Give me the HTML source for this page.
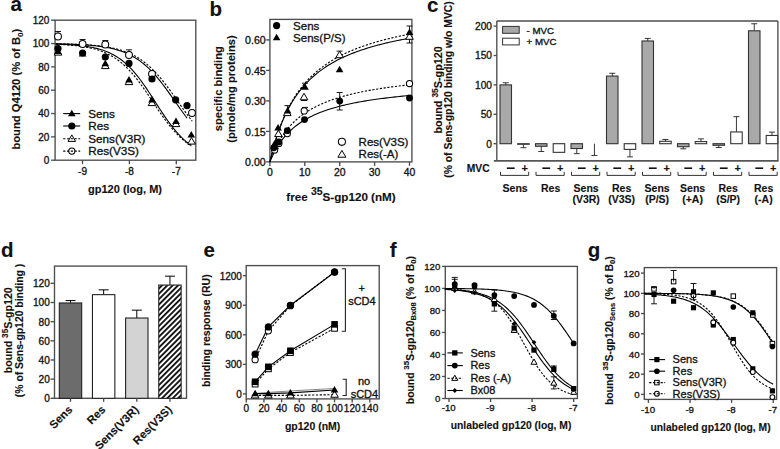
<!DOCTYPE html>
<html><head><meta charset="utf-8"><style>
html,body{margin:0;padding:0;background:#fff;}
svg{display:block;font-family:"Liberation Sans", sans-serif;}
</style></head><body>
<svg width="780" height="449" viewBox="0 0 780 449">
<rect width="780" height="449" fill="#fff"/>
<rect x="55.10" y="20.20" width="140.70" height="140.00" fill="none" stroke="#4d4d4d" stroke-width="1.35" />
<line x1="51.10" y1="160.20" x2="55.10" y2="160.20" stroke="#4d4d4d" stroke-width="1.35"/>
<text transform="translate(49.40,164.10)" font-size="10.0" text-anchor="end" stroke="#111" stroke-width="0.32" fill="#111">0</text>
<line x1="51.10" y1="136.87" x2="55.10" y2="136.87" stroke="#4d4d4d" stroke-width="1.35"/>
<text transform="translate(49.40,140.77)" font-size="10.0" text-anchor="end" stroke="#111" stroke-width="0.32" fill="#111">20</text>
<line x1="51.10" y1="113.53" x2="55.10" y2="113.53" stroke="#4d4d4d" stroke-width="1.35"/>
<text transform="translate(49.40,117.43)" font-size="10.0" text-anchor="end" stroke="#111" stroke-width="0.32" fill="#111">40</text>
<line x1="51.10" y1="90.20" x2="55.10" y2="90.20" stroke="#4d4d4d" stroke-width="1.35"/>
<text transform="translate(49.40,94.10)" font-size="10.0" text-anchor="end" stroke="#111" stroke-width="0.32" fill="#111">60</text>
<line x1="51.10" y1="66.87" x2="55.10" y2="66.87" stroke="#4d4d4d" stroke-width="1.35"/>
<text transform="translate(49.40,70.77)" font-size="10.0" text-anchor="end" stroke="#111" stroke-width="0.32" fill="#111">80</text>
<line x1="51.10" y1="43.53" x2="55.10" y2="43.53" stroke="#4d4d4d" stroke-width="1.35"/>
<text transform="translate(49.40,47.43)" font-size="10.0" text-anchor="end" stroke="#111" stroke-width="0.32" fill="#111">100</text>
<line x1="51.10" y1="20.20" x2="55.10" y2="20.20" stroke="#4d4d4d" stroke-width="1.35"/>
<text transform="translate(49.40,24.10)" font-size="10.0" text-anchor="end" stroke="#111" stroke-width="0.32" fill="#111">120</text>
<line x1="82.50" y1="160.20" x2="82.50" y2="164.20" stroke="#4d4d4d" stroke-width="1.35"/>
<text transform="translate(82.50,174.60)" font-size="10.0" text-anchor="middle" stroke="#111" stroke-width="0.32" fill="#111">-9</text>
<line x1="129.40" y1="160.20" x2="129.40" y2="164.20" stroke="#4d4d4d" stroke-width="1.35"/>
<text transform="translate(129.40,174.60)" font-size="10.0" text-anchor="middle" stroke="#111" stroke-width="0.32" fill="#111">-8</text>
<line x1="176.30" y1="160.20" x2="176.30" y2="164.20" stroke="#4d4d4d" stroke-width="1.35"/>
<text transform="translate(176.30,174.60)" font-size="10.0" text-anchor="middle" stroke="#111" stroke-width="0.32" fill="#111">-7</text>
<text transform="translate(125.00,192.60)" font-size="11.0" text-anchor="middle" font-weight="bold" stroke="#111" stroke-width="0.12" fill="#111">gp120 (log, M)</text>
<text transform="translate(20.40,89.20) rotate(-90)" font-size="11.2" text-anchor="middle" font-weight="bold" stroke="#111" stroke-width="0.12" fill="#111">bound Q4120 (% of B<tspan font-size="8" dy="2.6">0</tspan><tspan dy="-2.6">)</tspan></text>
<text transform="translate(10.60,10.90)" font-size="20.5" text-anchor="start" font-weight="bold" stroke="#111" stroke-width="0.12" fill="#111">a</text>
<path d="M55.77,44.10 L57.46,44.15 L59.16,44.21 L60.85,44.28 L62.54,44.35 L64.24,44.42 L65.93,44.51 L67.63,44.60 L69.32,44.70 L71.02,44.81 L72.71,44.93 L74.40,45.06 L76.10,45.20 L77.79,45.36 L79.49,45.53 L81.18,45.71 L82.88,45.92 L84.57,46.14 L86.26,46.38 L87.96,46.64 L89.65,46.93 L91.35,47.24 L93.04,47.58 L94.74,47.95 L96.43,48.35 L98.12,48.79 L99.82,49.26 L101.51,49.78 L103.21,50.33 L104.90,50.94 L106.59,51.59 L108.29,52.30 L109.98,53.07 L111.68,53.89 L113.37,54.78 L115.07,55.73 L116.76,56.76 L118.45,57.86 L120.15,59.04 L121.84,60.30 L123.54,61.64 L125.23,63.07 L126.93,64.59 L128.62,66.21 L130.31,67.91 L132.01,69.70 L133.70,71.59 L135.40,73.56 L137.09,75.63 L138.79,77.78 L140.48,80.02 L142.17,82.33 L143.87,84.71 L145.56,87.16 L147.26,89.66 L148.95,92.21 L150.65,94.80 L152.34,97.42 L154.03,100.06 L155.73,102.70 L157.42,105.34 L159.12,107.97 L160.81,110.57 L162.51,113.13 L164.20,115.66 L165.89,118.12 L167.59,120.53 L169.28,122.87 L170.98,125.13 L172.67,127.32 L174.37,129.41 L176.06,131.42 L177.75,133.34 L179.45,135.17 L181.14,136.91 L182.84,138.55 L184.53,140.11 L186.23,141.57 L187.92,142.95 L189.61,144.24 L191.31,145.45" fill="none" stroke="#000" stroke-width="1.1"/>
<path d="M55.77,44.31 L57.46,44.38 L59.16,44.46 L60.85,44.54 L62.54,44.63 L64.24,44.73 L65.93,44.84 L67.63,44.96 L69.32,45.09 L71.02,45.23 L72.71,45.38 L74.40,45.54 L76.10,45.72 L77.79,45.92 L79.49,46.13 L81.18,46.36 L82.88,46.61 L84.57,46.89 L86.26,47.18 L87.96,47.51 L89.65,47.86 L91.35,48.23 L93.04,48.64 L94.74,49.09 L96.43,49.57 L98.12,50.09 L99.82,50.65 L101.51,51.26 L103.21,51.91 L104.90,52.62 L106.59,53.38 L108.29,54.19 L109.98,55.07 L111.68,56.01 L113.37,57.02 L115.07,58.09 L116.76,59.24 L118.45,60.47 L120.15,61.77 L121.84,63.16 L123.54,64.62 L125.23,66.18 L126.93,67.81 L128.62,69.53 L130.31,71.34 L132.01,73.23 L133.70,75.21 L135.40,77.26 L137.09,79.40 L138.79,81.60 L140.48,83.87 L142.17,86.21 L143.87,88.60 L145.56,91.04 L147.26,93.52 L148.95,96.02 L150.65,98.56 L152.34,101.10 L154.03,103.65 L155.73,106.19 L157.42,108.71 L159.12,111.21 L160.81,113.67 L162.51,116.09 L164.20,118.46 L165.89,120.77 L167.59,123.02 L169.28,125.20 L170.98,127.30 L172.67,129.32 L174.37,131.26 L176.06,133.12 L177.75,134.89 L179.45,136.58 L181.14,138.19 L182.84,139.70 L184.53,141.14 L186.23,142.49 L187.92,143.76 L189.61,144.96 L191.31,146.08" fill="none" stroke="#000" stroke-width="1.1" stroke-dasharray="2.2,1.6"/>
<path d="M55.77,43.86 L57.41,43.89 L59.05,43.92 L60.69,43.95 L62.33,43.99 L63.97,44.02 L65.62,44.06 L67.26,44.11 L68.90,44.16 L70.54,44.21 L72.18,44.26 L73.82,44.33 L75.46,44.39 L77.11,44.46 L78.75,44.54 L80.39,44.62 L82.03,44.72 L83.67,44.81 L85.31,44.92 L86.96,45.03 L88.60,45.16 L90.24,45.29 L91.88,45.44 L93.52,45.59 L95.16,45.76 L96.80,45.95 L98.45,46.15 L100.09,46.36 L101.73,46.59 L103.37,46.84 L105.01,47.11 L106.65,47.40 L108.30,47.71 L109.94,48.05 L111.58,48.41 L113.22,48.80 L114.86,49.22 L116.50,49.68 L118.14,50.16 L119.79,50.69 L121.43,51.25 L123.07,51.85 L124.71,52.49 L126.35,53.18 L127.99,53.92 L129.63,54.71 L131.28,55.55 L132.92,56.45 L134.56,57.40 L136.20,58.42 L137.84,59.49 L139.48,60.64 L141.12,61.85 L142.77,63.13 L144.41,64.48 L146.05,65.90 L147.69,67.39 L149.33,68.96 L150.97,70.59 L152.62,72.30 L154.26,74.09 L155.90,75.94 L157.54,77.86 L159.18,79.84 L160.82,81.89 L162.46,83.99 L164.11,86.15 L165.75,88.35 L167.39,90.59 L169.03,92.87 L170.67,95.18 L172.31,97.51 L173.96,99.85 L175.60,102.20 L177.24,104.55 L178.88,106.89 L180.52,109.21 L182.16,111.52 L183.80,113.79 L185.45,116.02 L187.09,118.21" fill="none" stroke="#000" stroke-width="1.1"/>
<path d="M55.77,43.82 L57.47,43.84 L59.18,43.87 L60.88,43.90 L62.59,43.93 L64.30,43.97 L66.00,44.00 L67.71,44.05 L69.41,44.09 L71.12,44.14 L72.83,44.19 L74.53,44.25 L76.24,44.31 L77.94,44.38 L79.65,44.45 L81.36,44.53 L83.06,44.62 L84.77,44.71 L86.47,44.81 L88.18,44.92 L89.89,45.04 L91.59,45.17 L93.30,45.31 L95.00,45.47 L96.71,45.63 L98.42,45.81 L100.12,46.01 L101.83,46.22 L103.53,46.45 L105.24,46.69 L106.95,46.96 L108.65,47.25 L110.36,47.57 L112.06,47.91 L113.77,48.27 L115.48,48.67 L117.18,49.10 L118.89,49.56 L120.59,50.05 L122.30,50.59 L124.01,51.16 L125.71,51.78 L127.42,52.45 L129.12,53.16 L130.83,53.93 L132.54,54.75 L134.24,55.63 L135.95,56.57 L137.65,57.57 L139.36,58.64 L141.07,59.77 L142.77,60.98 L144.48,62.26 L146.18,63.61 L147.89,65.05 L149.60,66.55 L151.30,68.14 L153.01,69.81 L154.71,71.55 L156.42,73.37 L158.13,75.27 L159.83,77.24 L161.54,79.28 L163.24,81.39 L164.95,83.57 L166.66,85.80 L168.36,88.08 L170.07,90.41 L171.77,92.77 L173.48,95.17 L175.19,97.59 L176.89,100.03 L178.60,102.47 L180.30,104.91 L182.01,107.34 L183.72,109.75 L185.42,112.13 L187.13,114.48 L188.83,116.79 L190.54,119.05 L192.25,121.25" fill="none" stroke="#000" stroke-width="1.1" stroke-dasharray="2.2,1.6"/>
<line x1="58.00" y1="36.50" x2="58.00" y2="31.50" stroke="#000" stroke-width="0.9"/>
<line x1="55.00" y1="31.50" x2="61.00" y2="31.50" stroke="#000" stroke-width="0.9"/>
<line x1="82.60" y1="44.00" x2="82.60" y2="39.50" stroke="#000" stroke-width="0.9"/>
<line x1="79.60" y1="39.50" x2="85.60" y2="39.50" stroke="#000" stroke-width="0.9"/>
<line x1="105.30" y1="44.50" x2="105.30" y2="40.50" stroke="#000" stroke-width="0.9"/>
<line x1="102.30" y1="40.50" x2="108.30" y2="40.50" stroke="#000" stroke-width="0.9"/>
<line x1="129.00" y1="55.00" x2="129.00" y2="49.80" stroke="#000" stroke-width="0.9"/>
<line x1="126.00" y1="49.80" x2="132.00" y2="49.80" stroke="#000" stroke-width="0.9"/>
<polygon points="58.00,48.60 61.80,55.10 54.20,55.10" fill="#fff" stroke="#000" stroke-width="1.0" stroke-linejoin="round"/>
<polygon points="105.30,62.10 109.10,68.60 101.50,68.60" fill="#fff" stroke="#000" stroke-width="1.0" stroke-linejoin="round"/>
<polygon points="129.00,78.10 132.80,84.60 125.20,84.60" fill="#fff" stroke="#000" stroke-width="1.0" stroke-linejoin="round"/>
<polygon points="152.00,99.10 155.80,105.60 148.20,105.60" fill="#fff" stroke="#000" stroke-width="1.0" stroke-linejoin="round"/>
<polygon points="176.00,120.10 179.80,126.60 172.20,126.60" fill="#fff" stroke="#000" stroke-width="1.0" stroke-linejoin="round"/>
<polygon points="191.50,137.60 195.30,144.10 187.70,144.10" fill="#fff" stroke="#000" stroke-width="1.0" stroke-linejoin="round"/>
<circle cx="58.00" cy="36.50" r="3.41" fill="#fff" stroke="#000" stroke-width="1.05"/>
<circle cx="82.60" cy="44.00" r="3.41" fill="#fff" stroke="#000" stroke-width="1.05"/>
<circle cx="105.30" cy="44.50" r="3.41" fill="#fff" stroke="#000" stroke-width="1.05"/>
<circle cx="129.00" cy="55.00" r="3.41" fill="#fff" stroke="#000" stroke-width="1.05"/>
<circle cx="152.00" cy="73.90" r="3.41" fill="#fff" stroke="#000" stroke-width="1.05"/>
<circle cx="192.00" cy="113.00" r="3.41" fill="#fff" stroke="#000" stroke-width="1.05"/>
<polygon points="58.00,47.60 61.80,54.10 54.20,54.10" fill="#000"/>
<polygon points="82.60,50.10 86.40,56.60 78.80,56.60" fill="#000"/>
<polygon points="105.30,59.70 109.10,66.20 101.50,66.20" fill="#000"/>
<polygon points="129.00,76.10 132.80,82.60 125.20,82.60" fill="#000"/>
<polygon points="152.00,96.10 155.80,102.60 148.20,102.60" fill="#000"/>
<polygon points="176.00,117.40 179.80,123.90 172.20,123.90" fill="#000"/>
<polygon points="191.30,131.00 195.10,137.50 187.50,137.50" fill="#000"/>
<circle cx="58.00" cy="48.50" r="3.60" fill="#000"/>
<circle cx="82.60" cy="53.00" r="3.60" fill="#000"/>
<circle cx="105.30" cy="57.00" r="3.60" fill="#000"/>
<circle cx="129.00" cy="63.40" r="3.60" fill="#000"/>
<circle cx="152.00" cy="79.00" r="3.60" fill="#000"/>
<circle cx="175.60" cy="99.80" r="3.60" fill="#000"/>
<circle cx="187.00" cy="105.60" r="3.60" fill="#000"/>
<line x1="63.20" y1="113.60" x2="80.20" y2="113.60" stroke="#000" stroke-width="1.1"/>
<polygon points="71.80,109.70 75.60,116.20 68.00,116.20" fill="#000"/>
<text transform="translate(88.30,117.50)" font-size="11.7" text-anchor="start" stroke="#111" stroke-width="0.32" fill="#111">Sens</text>
<line x1="63.20" y1="126.00" x2="80.20" y2="126.00" stroke="#000" stroke-width="1.1"/>
<circle cx="71.80" cy="126.00" r="3.60" fill="#000"/>
<text transform="translate(88.30,129.90)" font-size="11.7" text-anchor="start" stroke="#111" stroke-width="0.32" fill="#111">Res</text>
<line x1="63.20" y1="138.80" x2="80.20" y2="138.80" stroke="#000" stroke-width="1.1" stroke-dasharray="2.2,1.6"/>
<polygon points="71.80,134.90 75.60,141.40 68.00,141.40" fill="none" stroke="#000" stroke-width="1.0" stroke-linejoin="round"/>
<text transform="translate(88.30,142.70)" font-size="11.7" text-anchor="start" stroke="#111" stroke-width="0.32" fill="#111">Sens(V3R)</text>
<line x1="63.20" y1="151.10" x2="80.20" y2="151.10" stroke="#000" stroke-width="1.1" stroke-dasharray="2.2,1.6"/>
<circle cx="71.80" cy="151.10" r="3.10" fill="none" stroke="#000" stroke-width="1.05"/>
<text transform="translate(88.30,155.00)" font-size="11.7" text-anchor="start" stroke="#111" stroke-width="0.32" fill="#111">Res(V3S)</text>
<rect x="269.90" y="19.40" width="142.00" height="142.50" fill="none" stroke="#4d4d4d" stroke-width="1.35" />
<line x1="266.10" y1="161.90" x2="269.90" y2="161.90" stroke="#4d4d4d" stroke-width="1.35"/>
<text transform="translate(265.70,166.03)" font-size="10.6" text-anchor="end" stroke="#111" stroke-width="0.32" fill="#111">0.00</text>
<line x1="266.10" y1="131.40" x2="269.90" y2="131.40" stroke="#4d4d4d" stroke-width="1.35"/>
<text transform="translate(265.70,135.53)" font-size="10.6" text-anchor="end" stroke="#111" stroke-width="0.32" fill="#111">0.15</text>
<line x1="266.10" y1="100.90" x2="269.90" y2="100.90" stroke="#4d4d4d" stroke-width="1.35"/>
<text transform="translate(265.70,105.03)" font-size="10.6" text-anchor="end" stroke="#111" stroke-width="0.32" fill="#111">0.30</text>
<line x1="266.10" y1="70.40" x2="269.90" y2="70.40" stroke="#4d4d4d" stroke-width="1.35"/>
<text transform="translate(265.70,74.53)" font-size="10.6" text-anchor="end" stroke="#111" stroke-width="0.32" fill="#111">0.45</text>
<line x1="266.10" y1="39.90" x2="269.90" y2="39.90" stroke="#4d4d4d" stroke-width="1.35"/>
<text transform="translate(265.70,44.03)" font-size="10.6" text-anchor="end" stroke="#111" stroke-width="0.32" fill="#111">0.60</text>
<line x1="269.90" y1="161.90" x2="269.90" y2="165.90" stroke="#4d4d4d" stroke-width="1.35"/>
<text transform="translate(269.90,175.70)" font-size="10.4" text-anchor="middle" stroke="#111" stroke-width="0.32" fill="#111">0</text>
<line x1="304.80" y1="161.90" x2="304.80" y2="165.90" stroke="#4d4d4d" stroke-width="1.35"/>
<text transform="translate(304.80,175.70)" font-size="10.4" text-anchor="middle" stroke="#111" stroke-width="0.32" fill="#111">10</text>
<line x1="339.70" y1="161.90" x2="339.70" y2="165.90" stroke="#4d4d4d" stroke-width="1.35"/>
<text transform="translate(339.70,175.70)" font-size="10.4" text-anchor="middle" stroke="#111" stroke-width="0.32" fill="#111">20</text>
<line x1="374.60" y1="161.90" x2="374.60" y2="165.90" stroke="#4d4d4d" stroke-width="1.35"/>
<text transform="translate(374.60,175.70)" font-size="10.4" text-anchor="middle" stroke="#111" stroke-width="0.32" fill="#111">30</text>
<line x1="409.50" y1="161.90" x2="409.50" y2="165.90" stroke="#4d4d4d" stroke-width="1.35"/>
<text transform="translate(409.50,175.70)" font-size="10.4" text-anchor="middle" stroke="#111" stroke-width="0.32" fill="#111">40</text>
<text transform="translate(286.30,200.80)" font-size="11.65" text-anchor="start" font-weight="bold" stroke="#111" stroke-width="0.12" fill="#111">free <tspan font-size="10.5" dy="-6.3">35</tspan><tspan dy="6.3">S-gp120 (nM)</tspan></text>
<text transform="translate(222.00,88.70) rotate(-90)" font-size="11.2" text-anchor="middle" font-weight="bold" stroke="#111" stroke-width="0.12" fill="#111">specific binding</text>
<text transform="translate(235.00,89.00) rotate(-90)" font-size="11.2" text-anchor="middle" font-weight="bold" stroke="#111" stroke-width="0.12" fill="#111">(pmole/mg proteins)</text>
<text transform="translate(209.60,15.90)" font-size="20.5" text-anchor="start" font-weight="bold" stroke="#111" stroke-width="0.12" fill="#111">b</text>
<path d="M269.90,161.90 L271.64,154.60 L273.39,147.95 L275.13,141.88 L276.88,136.31 L278.62,131.18 L280.37,126.44 L282.11,122.06 L283.86,117.98 L285.60,114.18 L287.35,110.63 L289.09,107.31 L290.84,104.19 L292.58,101.27 L294.33,98.51 L296.07,95.91 L297.82,93.46 L299.56,91.13 L301.31,88.93 L303.05,86.84 L304.80,84.85 L306.54,82.96 L308.29,81.16 L310.03,79.45 L311.78,77.81 L313.52,76.24 L315.27,74.74 L317.01,73.31 L318.76,71.93 L320.50,70.61 L322.25,69.34 L324.00,68.13 L325.74,66.95 L327.48,65.83 L329.23,64.74 L330.97,63.69 L332.72,62.69 L334.46,61.71 L336.21,60.77 L337.95,59.86 L339.70,58.98 L341.44,58.13 L343.19,57.31 L344.94,56.52 L346.68,55.74 L348.42,55.00 L350.17,54.27 L351.91,53.57 L353.66,52.88 L355.40,52.22 L357.15,51.58 L358.89,50.95 L360.64,50.34 L362.38,49.75 L364.13,49.17 L365.88,48.61 L367.62,48.06 L369.37,47.53 L371.11,47.01 L372.86,46.51 L374.60,46.01 L376.34,45.53 L378.09,45.06 L379.83,44.61 L381.58,44.16 L383.32,43.72 L385.07,43.30 L386.81,42.88 L388.56,42.47 L390.30,42.07 L392.05,41.68 L393.79,41.30 L395.54,40.93 L397.28,40.57 L399.03,40.21 L400.77,39.86 L402.52,39.52 L404.26,39.18 L406.01,38.86 L407.75,38.54 L409.50,38.22" fill="none" stroke="#000" stroke-width="1.1"/>
<path d="M269.90,161.90 L271.64,154.59 L273.39,147.92 L275.13,141.80 L276.88,136.17 L278.62,130.97 L280.37,126.16 L282.11,121.68 L283.86,117.52 L285.60,113.63 L287.35,109.99 L289.09,106.58 L290.84,103.37 L292.58,100.35 L294.33,97.51 L296.07,94.82 L297.82,92.27 L299.56,89.86 L301.31,87.58 L303.05,85.40 L304.80,83.34 L306.54,81.37 L308.29,79.49 L310.03,77.70 L311.78,75.99 L313.52,74.35 L315.27,72.78 L317.01,71.28 L318.76,69.83 L320.50,68.45 L322.25,67.12 L324.00,65.84 L325.74,64.61 L327.48,63.42 L329.23,62.28 L330.97,61.18 L332.72,60.11 L334.46,59.09 L336.21,58.09 L337.95,57.13 L339.70,56.21 L341.44,55.31 L343.19,54.44 L344.94,53.60 L346.68,52.78 L348.42,51.99 L350.17,51.22 L351.91,50.48 L353.66,49.75 L355.40,49.05 L357.15,48.37 L358.89,47.70 L360.64,47.05 L362.38,46.43 L364.13,45.81 L365.88,45.22 L367.62,44.64 L369.37,44.07 L371.11,43.52 L372.86,42.98 L374.60,42.46 L376.34,41.95 L378.09,41.45 L379.83,40.96 L381.58,40.48 L383.32,40.02 L385.07,39.56 L386.81,39.12 L388.56,38.69 L390.30,38.26 L392.05,37.85 L393.79,37.44 L395.54,37.04 L397.28,36.65 L399.03,36.27 L400.77,35.90 L402.52,35.54 L404.26,35.18 L406.01,34.83 L407.75,34.48 L409.50,34.15" fill="none" stroke="#000" stroke-width="1.1" stroke-dasharray="2.2,1.6"/>
<path d="M269.90,161.90 L271.64,157.82 L273.39,154.13 L275.13,150.77 L276.88,147.70 L278.62,144.89 L280.37,142.29 L282.11,139.90 L283.86,137.68 L285.60,135.62 L287.35,133.70 L289.09,131.90 L290.84,130.23 L292.58,128.65 L294.33,127.17 L296.07,125.78 L297.82,124.47 L299.56,123.23 L301.31,122.05 L303.05,120.94 L304.80,119.88 L306.54,118.88 L308.29,117.93 L310.03,117.02 L311.78,116.15 L313.52,115.32 L315.27,114.53 L317.01,113.77 L318.76,113.05 L320.50,112.35 L322.25,111.69 L324.00,111.05 L325.74,110.43 L327.48,109.84 L329.23,109.27 L330.97,108.72 L332.72,108.19 L334.46,107.68 L336.21,107.19 L337.95,106.72 L339.70,106.26 L341.44,105.81 L343.19,105.39 L344.94,104.97 L346.68,104.57 L348.42,104.18 L350.17,103.80 L351.91,103.43 L353.66,103.08 L355.40,102.73 L357.15,102.40 L358.89,102.07 L360.64,101.76 L362.38,101.45 L364.13,101.15 L365.88,100.86 L367.62,100.58 L369.37,100.30 L371.11,100.03 L372.86,99.77 L374.60,99.51 L376.34,99.26 L378.09,99.02 L379.83,98.79 L381.58,98.55 L383.32,98.33 L385.07,98.11 L386.81,97.89 L388.56,97.68 L390.30,97.48 L392.05,97.28 L393.79,97.08 L395.54,96.89 L397.28,96.70 L399.03,96.51 L400.77,96.33 L402.52,96.16 L404.26,95.99 L406.01,95.82 L407.75,95.65 L409.50,95.49" fill="none" stroke="#000" stroke-width="1.1"/>
<path d="M269.90,161.90 L271.64,157.17 L273.39,152.88 L275.13,148.99 L276.88,145.42 L278.62,142.15 L280.37,139.15 L282.11,136.37 L283.86,133.79 L285.60,131.40 L287.35,129.17 L289.09,127.09 L290.84,125.14 L292.58,123.32 L294.33,121.60 L296.07,119.98 L297.82,118.46 L299.56,117.02 L301.31,115.66 L303.05,114.37 L304.80,113.14 L306.54,111.98 L308.29,110.87 L310.03,109.81 L311.78,108.81 L313.52,107.85 L315.27,106.93 L317.01,106.05 L318.76,105.21 L320.50,104.40 L322.25,103.63 L324.00,102.88 L325.74,102.17 L327.48,101.48 L329.23,100.82 L330.97,100.19 L332.72,99.57 L334.46,98.98 L336.21,98.41 L337.95,97.86 L339.70,97.33 L341.44,96.81 L343.19,96.32 L344.94,95.83 L346.68,95.37 L348.42,94.91 L350.17,94.48 L351.91,94.05 L353.66,93.64 L355.40,93.24 L357.15,92.85 L358.89,92.47 L360.64,92.10 L362.38,91.75 L364.13,91.40 L365.88,91.06 L367.62,90.73 L369.37,90.41 L371.11,90.10 L372.86,89.80 L374.60,89.50 L376.34,89.21 L378.09,88.93 L379.83,88.66 L381.58,88.39 L383.32,88.13 L385.07,87.87 L386.81,87.62 L388.56,87.38 L390.30,87.14 L392.05,86.90 L393.79,86.68 L395.54,86.45 L397.28,86.23 L399.03,86.02 L400.77,85.81 L402.52,85.61 L404.26,85.41 L406.01,85.21 L407.75,85.02 L409.50,84.83" fill="none" stroke="#000" stroke-width="1.1" stroke-dasharray="2.2,1.6"/>
<line x1="305.00" y1="111.10" x2="305.00" y2="107.40" stroke="#000" stroke-width="0.9"/>
<line x1="302.00" y1="107.40" x2="308.00" y2="107.40" stroke="#000" stroke-width="0.9"/>
<line x1="339.70" y1="101.10" x2="339.70" y2="92.50" stroke="#000" stroke-width="0.9"/>
<line x1="336.70" y1="92.50" x2="342.70" y2="92.50" stroke="#000" stroke-width="0.9"/>
<line x1="339.60" y1="55.10" x2="339.60" y2="51.10" stroke="#000" stroke-width="0.9"/>
<line x1="336.60" y1="51.10" x2="342.60" y2="51.10" stroke="#000" stroke-width="0.9"/>
<line x1="305.00" y1="87.20" x2="305.00" y2="83.20" stroke="#000" stroke-width="0.9"/>
<line x1="302.00" y1="83.20" x2="308.00" y2="83.20" stroke="#000" stroke-width="0.9"/>
<line x1="287.40" y1="110.90" x2="287.40" y2="105.60" stroke="#000" stroke-width="0.9"/>
<line x1="284.40" y1="105.60" x2="290.40" y2="105.60" stroke="#000" stroke-width="0.9"/>
<line x1="409.50" y1="36.00" x2="409.50" y2="26.00" stroke="#000" stroke-width="0.9"/>
<line x1="406.50" y1="26.00" x2="412.50" y2="26.00" stroke="#000" stroke-width="0.9"/>
<line x1="304.00" y1="97.20" x2="304.00" y2="100.50" stroke="#000" stroke-width="0.9"/>
<line x1="301.00" y1="100.50" x2="307.00" y2="100.50" stroke="#000" stroke-width="0.9"/>
<line x1="339.70" y1="101.10" x2="339.70" y2="110.00" stroke="#000" stroke-width="0.9"/>
<line x1="336.70" y1="110.00" x2="342.70" y2="110.00" stroke="#000" stroke-width="0.9"/>
<line x1="409.50" y1="36.00" x2="409.50" y2="43.00" stroke="#000" stroke-width="0.9"/>
<line x1="406.50" y1="43.00" x2="412.50" y2="43.00" stroke="#000" stroke-width="0.9"/>
<circle cx="274.60" cy="150.00" r="3.10" fill="#fff" stroke="#000" stroke-width="1.05"/>
<circle cx="278.90" cy="143.50" r="3.10" fill="#fff" stroke="#000" stroke-width="1.05"/>
<circle cx="287.30" cy="133.60" r="3.10" fill="#fff" stroke="#000" stroke-width="1.05"/>
<circle cx="304.20" cy="110.90" r="3.10" fill="#fff" stroke="#000" stroke-width="1.05"/>
<circle cx="409.50" cy="83.50" r="3.10" fill="#fff" stroke="#000" stroke-width="1.05"/>
<polygon points="274.60,142.10 278.40,148.60 270.80,148.60" fill="#fff" stroke="#000" stroke-width="1.0" stroke-linejoin="round"/>
<polygon points="278.40,130.10 282.20,136.60 274.60,136.60" fill="#fff" stroke="#000" stroke-width="1.0" stroke-linejoin="round"/>
<polygon points="287.30,109.10 291.10,115.60 283.50,115.60" fill="#fff" stroke="#000" stroke-width="1.0" stroke-linejoin="round"/>
<polygon points="304.00,93.30 307.80,99.80 300.20,99.80" fill="#fff" stroke="#000" stroke-width="1.0" stroke-linejoin="round"/>
<polygon points="339.60,51.20 343.40,57.70 335.80,57.70" fill="#fff" stroke="#000" stroke-width="1.0" stroke-linejoin="round"/>
<polygon points="409.50,32.80 413.30,39.30 405.70,39.30" fill="#fff" stroke="#000" stroke-width="1.0" stroke-linejoin="round"/>
<circle cx="273.80" cy="147.80" r="3.42" fill="#000"/>
<circle cx="278.90" cy="142.00" r="3.42" fill="#000"/>
<circle cx="287.30" cy="130.70" r="3.42" fill="#000"/>
<circle cx="304.50" cy="119.60" r="3.42" fill="#000"/>
<circle cx="339.70" cy="101.10" r="3.42" fill="#000"/>
<circle cx="409.50" cy="98.00" r="3.42" fill="#000"/>
<polygon points="274.60,140.10 278.40,146.60 270.80,146.60" fill="#000"/>
<polygon points="278.10,123.90 281.90,130.40 274.30,130.40" fill="#000"/>
<polygon points="287.60,107.00 291.40,113.50 283.80,113.50" fill="#000"/>
<polygon points="305.00,83.30 308.80,89.80 301.20,89.80" fill="#000"/>
<polygon points="339.60,65.70 343.40,72.20 335.80,72.20" fill="#000"/>
<polygon points="409.50,28.40 413.30,34.90 405.70,34.90" fill="#000"/>
<circle cx="276.60" cy="25.60" r="3.60" fill="#000"/>
<text transform="translate(293.10,29.50)" font-size="11.5" text-anchor="start" stroke="#111" stroke-width="0.32" fill="#111">Sens</text>
<polygon points="276.60,33.80 280.40,40.30 272.80,40.30" fill="#000"/>
<text transform="translate(293.10,41.60)" font-size="11.5" text-anchor="start" stroke="#111" stroke-width="0.32" fill="#111">Sens(P/S)</text>
<circle cx="341.90" cy="141.80" r="3.56" fill="none" stroke="#000" stroke-width="1.05"/>
<text transform="translate(358.60,145.70)" font-size="11.5" text-anchor="start" stroke="#111" stroke-width="0.32" fill="#111">Res(V3S)</text>
<polygon points="341.90,150.41 345.89,157.23 337.91,157.23" fill="none" stroke="#000" stroke-width="1.0" stroke-linejoin="round"/>
<text transform="translate(358.60,158.40)" font-size="11.5" text-anchor="start" stroke="#111" stroke-width="0.32" fill="#111">Res(-A)</text>
<line x1="496.80" y1="21.00" x2="777.90" y2="21.00" stroke="#4d4d4d" stroke-width="1.35"/>
<line x1="777.90" y1="21.00" x2="777.90" y2="160.90" stroke="#4d4d4d" stroke-width="1.35"/>
<line x1="496.80" y1="21.00" x2="496.80" y2="160.90" stroke="#4d4d4d" stroke-width="1.35"/>
<line x1="493.80" y1="160.90" x2="778.50" y2="160.90" stroke="#555" stroke-width="1.7"/>
<line x1="493.60" y1="143.70" x2="496.80" y2="143.70" stroke="#4d4d4d" stroke-width="1.35"/>
<text transform="translate(492.00,147.68)" font-size="10.2" text-anchor="end" stroke="#111" stroke-width="0.32" fill="#111">0</text>
<line x1="493.60" y1="114.30" x2="496.80" y2="114.30" stroke="#4d4d4d" stroke-width="1.35"/>
<text transform="translate(492.00,118.28)" font-size="10.2" text-anchor="end" stroke="#111" stroke-width="0.32" fill="#111">50</text>
<line x1="493.60" y1="84.90" x2="496.80" y2="84.90" stroke="#4d4d4d" stroke-width="1.35"/>
<text transform="translate(492.00,88.88)" font-size="10.2" text-anchor="end" stroke="#111" stroke-width="0.32" fill="#111">100</text>
<line x1="493.60" y1="55.50" x2="496.80" y2="55.50" stroke="#4d4d4d" stroke-width="1.35"/>
<text transform="translate(492.00,59.48)" font-size="10.2" text-anchor="end" stroke="#111" stroke-width="0.32" fill="#111">150</text>
<line x1="493.60" y1="26.10" x2="496.80" y2="26.10" stroke="#4d4d4d" stroke-width="1.35"/>
<text transform="translate(492.00,30.08)" font-size="10.2" text-anchor="end" stroke="#111" stroke-width="0.32" fill="#111">200</text>
<text transform="translate(427.00,11.90)" font-size="20.5" text-anchor="start" font-weight="bold" stroke="#111" stroke-width="0.12" fill="#111">c</text>
<text transform="translate(441.80,89.90) rotate(-90)" font-size="10.8" text-anchor="middle" font-weight="bold" stroke="#111" stroke-width="0.12" fill="#111">bound <tspan font-size="8.4" dy="-4.2">35</tspan><tspan dy="4.2">S-gp120</tspan></text>
<text transform="translate(451.80,89.50) rotate(-90)" font-size="10.4" text-anchor="middle" font-weight="bold" stroke="#111" stroke-width="0.12" fill="#111">(% of Sens-gp120 binding w/o MVC)</text>
<line x1="505.75" y1="84.90" x2="505.75" y2="82.78" stroke="#222" stroke-width="0.9"/>
<line x1="502.75" y1="82.78" x2="508.75" y2="82.78" stroke="#222" stroke-width="0.9"/>
<rect x="500.00" y="84.90" width="11.50" height="58.80" fill="#a9a9a9" stroke="#333" stroke-width="1.1" />
<line x1="523.45" y1="144.29" x2="523.45" y2="147.70" stroke="#222" stroke-width="0.9"/>
<line x1="520.45" y1="147.70" x2="526.45" y2="147.70" stroke="#222" stroke-width="0.9"/>
<rect x="517.70" y="143.70" width="11.50" height="0.59" fill="#fff" stroke="#333" stroke-width="1.1" />
<rect x="506.85" y="167.40" width="7.80" height="1.60" fill="#111" stroke="none" stroke-width="0" />
<text transform="translate(524.65,171.60)" font-size="11" text-anchor="middle" font-weight="bold" stroke="#111" stroke-width="0.12" fill="#111">+</text>
<path d="M500.50,171.8 L500.50,175.4 L528.70,175.4 L528.70,171.8" fill="none" stroke="#333" stroke-width="1.0"/>
<text transform="translate(515.10,191.80)" font-size="10.5" text-anchor="middle" font-weight="bold" stroke="#111" stroke-width="0.12" fill="#111">Sens</text>
<line x1="541.25" y1="146.29" x2="541.25" y2="151.52" stroke="#222" stroke-width="0.9"/>
<line x1="538.25" y1="151.52" x2="544.25" y2="151.52" stroke="#222" stroke-width="0.9"/>
<rect x="535.50" y="143.70" width="11.50" height="2.59" fill="#a9a9a9" stroke="#333" stroke-width="1.1" />
<rect x="553.20" y="143.70" width="11.50" height="8.64" fill="#fff" stroke="#333" stroke-width="1.1" />
<rect x="542.35" y="167.40" width="7.80" height="1.60" fill="#111" stroke="none" stroke-width="0" />
<text transform="translate(560.15,171.60)" font-size="11" text-anchor="middle" font-weight="bold" stroke="#111" stroke-width="0.12" fill="#111">+</text>
<path d="M536.00,171.8 L536.00,175.4 L564.20,175.4 L564.20,171.8" fill="none" stroke="#333" stroke-width="1.0"/>
<text transform="translate(550.60,191.80)" font-size="10.5" text-anchor="middle" font-weight="bold" stroke="#111" stroke-width="0.12" fill="#111">Res</text>
<line x1="576.75" y1="148.52" x2="576.75" y2="153.64" stroke="#222" stroke-width="0.9"/>
<line x1="573.75" y1="153.64" x2="579.75" y2="153.64" stroke="#222" stroke-width="0.9"/>
<rect x="571.00" y="143.70" width="11.50" height="4.82" fill="#a9a9a9" stroke="#333" stroke-width="1.1" />
<line x1="594.45" y1="143.70" x2="594.45" y2="155.46" stroke="#222" stroke-width="0.9"/>
<line x1="591.45" y1="155.46" x2="597.45" y2="155.46" stroke="#222" stroke-width="0.9"/>
<rect x="577.85" y="167.40" width="7.80" height="1.60" fill="#111" stroke="none" stroke-width="0" />
<text transform="translate(595.65,171.60)" font-size="11" text-anchor="middle" font-weight="bold" stroke="#111" stroke-width="0.12" fill="#111">+</text>
<path d="M571.50,171.8 L571.50,175.4 L599.70,175.4 L599.70,171.8" fill="none" stroke="#333" stroke-width="1.0"/>
<text transform="translate(586.10,191.80)" font-size="10.5" text-anchor="middle" font-weight="bold" stroke="#111" stroke-width="0.12" fill="#111">Sens</text>
<text transform="translate(586.10,203.40)" font-size="10.5" text-anchor="middle" font-weight="bold" stroke="#111" stroke-width="0.12" fill="#111">(V3R)</text>
<line x1="612.25" y1="76.08" x2="612.25" y2="73.26" stroke="#222" stroke-width="0.9"/>
<line x1="609.25" y1="73.26" x2="615.25" y2="73.26" stroke="#222" stroke-width="0.9"/>
<rect x="606.50" y="76.08" width="11.50" height="67.62" fill="#a9a9a9" stroke="#333" stroke-width="1.1" />
<line x1="629.95" y1="149.40" x2="629.95" y2="156.87" stroke="#222" stroke-width="0.9"/>
<line x1="626.95" y1="156.87" x2="632.95" y2="156.87" stroke="#222" stroke-width="0.9"/>
<rect x="624.20" y="143.70" width="11.50" height="5.70" fill="#fff" stroke="#333" stroke-width="1.1" />
<rect x="613.35" y="167.40" width="7.80" height="1.60" fill="#111" stroke="none" stroke-width="0" />
<text transform="translate(631.15,171.60)" font-size="11" text-anchor="middle" font-weight="bold" stroke="#111" stroke-width="0.12" fill="#111">+</text>
<path d="M607.00,171.8 L607.00,175.4 L635.20,175.4 L635.20,171.8" fill="none" stroke="#333" stroke-width="1.0"/>
<text transform="translate(621.60,191.80)" font-size="10.5" text-anchor="middle" font-weight="bold" stroke="#111" stroke-width="0.12" fill="#111">Res</text>
<text transform="translate(621.60,203.40)" font-size="10.5" text-anchor="middle" font-weight="bold" stroke="#111" stroke-width="0.12" fill="#111">(V3S)</text>
<line x1="647.75" y1="40.98" x2="647.75" y2="38.45" stroke="#222" stroke-width="0.9"/>
<line x1="644.75" y1="38.45" x2="650.75" y2="38.45" stroke="#222" stroke-width="0.9"/>
<rect x="642.00" y="40.98" width="11.50" height="102.72" fill="#a9a9a9" stroke="#333" stroke-width="1.1" />
<line x1="665.45" y1="141.29" x2="665.45" y2="139.47" stroke="#222" stroke-width="0.9"/>
<line x1="662.45" y1="139.47" x2="668.45" y2="139.47" stroke="#222" stroke-width="0.9"/>
<rect x="659.70" y="141.29" width="11.50" height="2.41" fill="#fff" stroke="#333" stroke-width="1.1" />
<rect x="648.85" y="167.40" width="7.80" height="1.60" fill="#111" stroke="none" stroke-width="0" />
<text transform="translate(666.65,171.60)" font-size="11" text-anchor="middle" font-weight="bold" stroke="#111" stroke-width="0.12" fill="#111">+</text>
<path d="M642.50,171.8 L642.50,175.4 L670.70,175.4 L670.70,171.8" fill="none" stroke="#333" stroke-width="1.0"/>
<text transform="translate(657.10,191.80)" font-size="10.5" text-anchor="middle" font-weight="bold" stroke="#111" stroke-width="0.12" fill="#111">Sens</text>
<text transform="translate(657.10,203.40)" font-size="10.5" text-anchor="middle" font-weight="bold" stroke="#111" stroke-width="0.12" fill="#111">(P/S)</text>
<line x1="683.25" y1="146.70" x2="683.25" y2="148.82" stroke="#222" stroke-width="0.9"/>
<line x1="680.25" y1="148.82" x2="686.25" y2="148.82" stroke="#222" stroke-width="0.9"/>
<rect x="677.50" y="143.70" width="11.50" height="3.00" fill="#a9a9a9" stroke="#333" stroke-width="1.1" />
<line x1="700.95" y1="141.58" x2="700.95" y2="138.88" stroke="#222" stroke-width="0.9"/>
<line x1="697.95" y1="138.88" x2="703.95" y2="138.88" stroke="#222" stroke-width="0.9"/>
<rect x="695.20" y="141.58" width="11.50" height="2.12" fill="#fff" stroke="#333" stroke-width="1.1" />
<rect x="684.35" y="167.40" width="7.80" height="1.60" fill="#111" stroke="none" stroke-width="0" />
<text transform="translate(702.15,171.60)" font-size="11" text-anchor="middle" font-weight="bold" stroke="#111" stroke-width="0.12" fill="#111">+</text>
<path d="M678.00,171.8 L678.00,175.4 L706.20,175.4 L706.20,171.8" fill="none" stroke="#333" stroke-width="1.0"/>
<text transform="translate(692.60,191.80)" font-size="10.5" text-anchor="middle" font-weight="bold" stroke="#111" stroke-width="0.12" fill="#111">Sens</text>
<text transform="translate(692.60,203.40)" font-size="10.5" text-anchor="middle" font-weight="bold" stroke="#111" stroke-width="0.12" fill="#111">(+A)</text>
<line x1="718.75" y1="145.29" x2="718.75" y2="147.52" stroke="#222" stroke-width="0.9"/>
<line x1="715.75" y1="147.52" x2="721.75" y2="147.52" stroke="#222" stroke-width="0.9"/>
<rect x="713.00" y="143.70" width="11.50" height="1.59" fill="#a9a9a9" stroke="#333" stroke-width="1.1" />
<line x1="736.45" y1="131.94" x2="736.45" y2="116.65" stroke="#222" stroke-width="0.9"/>
<line x1="733.45" y1="116.65" x2="739.45" y2="116.65" stroke="#222" stroke-width="0.9"/>
<rect x="730.70" y="131.94" width="11.50" height="11.76" fill="#fff" stroke="#333" stroke-width="1.1" />
<rect x="719.85" y="167.40" width="7.80" height="1.60" fill="#111" stroke="none" stroke-width="0" />
<text transform="translate(737.65,171.60)" font-size="11" text-anchor="middle" font-weight="bold" stroke="#111" stroke-width="0.12" fill="#111">+</text>
<path d="M713.50,171.8 L713.50,175.4 L741.70,175.4 L741.70,171.8" fill="none" stroke="#333" stroke-width="1.0"/>
<text transform="translate(728.10,191.80)" font-size="10.5" text-anchor="middle" font-weight="bold" stroke="#111" stroke-width="0.12" fill="#111">Res</text>
<text transform="translate(728.10,203.40)" font-size="10.5" text-anchor="middle" font-weight="bold" stroke="#111" stroke-width="0.12" fill="#111">(S/P)</text>
<line x1="754.25" y1="30.80" x2="754.25" y2="23.75" stroke="#222" stroke-width="0.9"/>
<line x1="751.25" y1="23.75" x2="757.25" y2="23.75" stroke="#222" stroke-width="0.9"/>
<rect x="748.50" y="30.80" width="11.50" height="112.90" fill="#a9a9a9" stroke="#333" stroke-width="1.1" />
<line x1="771.95" y1="135.47" x2="771.95" y2="132.12" stroke="#222" stroke-width="0.9"/>
<line x1="768.95" y1="132.12" x2="774.95" y2="132.12" stroke="#222" stroke-width="0.9"/>
<rect x="766.20" y="135.47" width="11.50" height="8.23" fill="#fff" stroke="#333" stroke-width="1.1" />
<rect x="755.35" y="167.40" width="7.80" height="1.60" fill="#111" stroke="none" stroke-width="0" />
<text transform="translate(773.15,171.60)" font-size="11" text-anchor="middle" font-weight="bold" stroke="#111" stroke-width="0.12" fill="#111">+</text>
<path d="M749.00,171.8 L749.00,175.4 L777.20,175.4 L777.20,171.8" fill="none" stroke="#333" stroke-width="1.0"/>
<text transform="translate(763.60,191.80)" font-size="10.5" text-anchor="middle" font-weight="bold" stroke="#111" stroke-width="0.12" fill="#111">Res</text>
<text transform="translate(763.60,203.40)" font-size="10.5" text-anchor="middle" font-weight="bold" stroke="#111" stroke-width="0.12" fill="#111">(-A)</text>
<text transform="translate(466.70,172.40)" font-size="10.3" text-anchor="start" font-weight="bold" stroke="#111" stroke-width="0.12" fill="#111">MVC</text>
<rect x="502.60" y="26.40" width="16.60" height="6.90" fill="#a9a9a9" stroke="#333" stroke-width="1.0" />
<rect x="502.60" y="38.20" width="16.60" height="6.70" fill="#fff" stroke="#333" stroke-width="1.0" />
<text transform="translate(526.60,33.50)" font-size="9.7" text-anchor="start" stroke="#111" stroke-width="0.32" fill="#111">- MVC</text>
<text transform="translate(526.60,44.90)" font-size="9.7" text-anchor="start" stroke="#111" stroke-width="0.32" fill="#111">+ MVC</text>
<rect x="54.50" y="266.10" width="132.00" height="132.20" fill="none" stroke="#4d4d4d" stroke-width="1.35" />
<line x1="50.60" y1="398.30" x2="54.50" y2="398.30" stroke="#4d4d4d" stroke-width="1.35"/>
<text transform="translate(49.80,402.24)" font-size="10.1" text-anchor="end" stroke="#111" stroke-width="0.32" fill="#111">0</text>
<line x1="50.60" y1="379.14" x2="54.50" y2="379.14" stroke="#4d4d4d" stroke-width="1.35"/>
<text transform="translate(49.80,383.08)" font-size="10.1" text-anchor="end" stroke="#111" stroke-width="0.32" fill="#111">20</text>
<line x1="50.60" y1="359.98" x2="54.50" y2="359.98" stroke="#4d4d4d" stroke-width="1.35"/>
<text transform="translate(49.80,363.92)" font-size="10.1" text-anchor="end" stroke="#111" stroke-width="0.32" fill="#111">40</text>
<line x1="50.60" y1="340.82" x2="54.50" y2="340.82" stroke="#4d4d4d" stroke-width="1.35"/>
<text transform="translate(49.80,344.76)" font-size="10.1" text-anchor="end" stroke="#111" stroke-width="0.32" fill="#111">60</text>
<line x1="50.60" y1="321.66" x2="54.50" y2="321.66" stroke="#4d4d4d" stroke-width="1.35"/>
<text transform="translate(49.80,325.60)" font-size="10.1" text-anchor="end" stroke="#111" stroke-width="0.32" fill="#111">80</text>
<line x1="50.60" y1="302.50" x2="54.50" y2="302.50" stroke="#4d4d4d" stroke-width="1.35"/>
<text transform="translate(49.80,306.44)" font-size="10.1" text-anchor="end" stroke="#111" stroke-width="0.32" fill="#111">100</text>
<line x1="50.60" y1="283.34" x2="54.50" y2="283.34" stroke="#4d4d4d" stroke-width="1.35"/>
<text transform="translate(49.80,287.28)" font-size="10.1" text-anchor="end" stroke="#111" stroke-width="0.32" fill="#111">120</text>
<text transform="translate(1.00,257.20)" font-size="20.5" text-anchor="start" font-weight="bold" stroke="#111" stroke-width="0.12" fill="#111">d</text>
<text transform="translate(12.20,330.30) rotate(-90)" font-size="10.65" text-anchor="middle" font-weight="bold" stroke="#111" stroke-width="0.12" fill="#111">bound <tspan font-size="8.3" dy="-4.2">35</tspan><tspan dy="4.2">S-gp120</tspan></text>
<text transform="translate(23.40,330.50) rotate(-90)" font-size="10.4" text-anchor="middle" font-weight="bold" stroke="#111" stroke-width="0.12" fill="#111">(% of Sens-gp120 binding )</text>
<defs><pattern id="hatch" patternUnits="userSpaceOnUse" width="3.8" height="3.8" patternTransform="rotate(45)"><rect width="3.8" height="3.8" fill="#fff"/><rect x="0" y="0" width="1.85" height="3.8" fill="#111"/></pattern></defs>
<line x1="70.50" y1="302.98" x2="70.50" y2="300.58" stroke="#000" stroke-width="1.0"/>
<line x1="65.50" y1="300.58" x2="75.50" y2="300.58" stroke="#000" stroke-width="1.0"/>
<rect x="59.30" y="302.98" width="22.40" height="95.32" fill="#6c6c6c" stroke="#222" stroke-width="1.1" />
<line x1="70.50" y1="398.30" x2="70.50" y2="401.80" stroke="#4d4d4d" stroke-width="1.35"/>
<text transform="translate(73.10,410.30) rotate(-45)" font-size="11.3" text-anchor="end" font-weight="bold" stroke="#111" stroke-width="0.12" fill="#111">Sens</text>
<line x1="103.65" y1="294.64" x2="103.65" y2="289.85" stroke="#000" stroke-width="1.0"/>
<line x1="98.65" y1="289.85" x2="108.65" y2="289.85" stroke="#000" stroke-width="1.0"/>
<rect x="92.45" y="294.64" width="22.40" height="103.66" fill="#fff" stroke="#222" stroke-width="1.1" />
<line x1="103.65" y1="398.30" x2="103.65" y2="401.80" stroke="#4d4d4d" stroke-width="1.35"/>
<text transform="translate(106.25,410.30) rotate(-45)" font-size="11.3" text-anchor="end" font-weight="bold" stroke="#111" stroke-width="0.12" fill="#111">Res</text>
<line x1="136.80" y1="318.02" x2="136.80" y2="310.16" stroke="#000" stroke-width="1.0"/>
<line x1="131.80" y1="310.16" x2="141.80" y2="310.16" stroke="#000" stroke-width="1.0"/>
<rect x="125.60" y="318.02" width="22.40" height="80.28" fill="#d3d3d3" stroke="#222" stroke-width="1.1" />
<line x1="136.80" y1="398.30" x2="136.80" y2="401.80" stroke="#4d4d4d" stroke-width="1.35"/>
<text transform="translate(139.40,410.30) rotate(-45)" font-size="11.3" text-anchor="end" font-weight="bold" stroke="#111" stroke-width="0.12" fill="#111">Sens(V3R)</text>
<line x1="169.95" y1="285.06" x2="169.95" y2="276.16" stroke="#000" stroke-width="1.0"/>
<line x1="164.95" y1="276.16" x2="174.95" y2="276.16" stroke="#000" stroke-width="1.0"/>
<rect x="158.75" y="285.06" width="22.40" height="113.24" fill="url(#hatch)" stroke="#222" stroke-width="1.1" />
<line x1="169.95" y1="398.30" x2="169.95" y2="401.80" stroke="#4d4d4d" stroke-width="1.35"/>
<text transform="translate(172.55,410.30) rotate(-45)" font-size="11.3" text-anchor="end" font-weight="bold" stroke="#111" stroke-width="0.12" fill="#111">Res(V3S)</text>
<rect x="246.20" y="265.60" width="133.00" height="133.30" fill="none" stroke="#4d4d4d" stroke-width="1.35" />
<line x1="242.90" y1="393.90" x2="246.20" y2="393.90" stroke="#4d4d4d" stroke-width="1.35"/>
<text transform="translate(241.90,397.80)" font-size="10.0" text-anchor="end" stroke="#111" stroke-width="0.32" fill="#111">0</text>
<line x1="242.90" y1="364.35" x2="246.20" y2="364.35" stroke="#4d4d4d" stroke-width="1.35"/>
<text transform="translate(241.90,368.25)" font-size="10.0" text-anchor="end" stroke="#111" stroke-width="0.32" fill="#111">300</text>
<line x1="242.90" y1="334.80" x2="246.20" y2="334.80" stroke="#4d4d4d" stroke-width="1.35"/>
<text transform="translate(241.90,338.70)" font-size="10.0" text-anchor="end" stroke="#111" stroke-width="0.32" fill="#111">600</text>
<line x1="242.90" y1="305.25" x2="246.20" y2="305.25" stroke="#4d4d4d" stroke-width="1.35"/>
<text transform="translate(241.90,309.15)" font-size="10.0" text-anchor="end" stroke="#111" stroke-width="0.32" fill="#111">900</text>
<line x1="242.90" y1="275.70" x2="246.20" y2="275.70" stroke="#4d4d4d" stroke-width="1.35"/>
<text transform="translate(241.90,279.60)" font-size="10.0" text-anchor="end" stroke="#111" stroke-width="0.32" fill="#111">1200</text>
<line x1="246.30" y1="398.90" x2="246.30" y2="402.40" stroke="#4d4d4d" stroke-width="1.35"/>
<text transform="translate(246.30,412.10)" font-size="10.0" text-anchor="middle" stroke="#111" stroke-width="0.32" fill="#111">0</text>
<line x1="263.95" y1="398.90" x2="263.95" y2="402.40" stroke="#4d4d4d" stroke-width="1.35"/>
<text transform="translate(263.95,412.10)" font-size="10.0" text-anchor="middle" stroke="#111" stroke-width="0.32" fill="#111">20</text>
<line x1="281.60" y1="398.90" x2="281.60" y2="402.40" stroke="#4d4d4d" stroke-width="1.35"/>
<text transform="translate(281.60,412.10)" font-size="10.0" text-anchor="middle" stroke="#111" stroke-width="0.32" fill="#111">40</text>
<line x1="299.25" y1="398.90" x2="299.25" y2="402.40" stroke="#4d4d4d" stroke-width="1.35"/>
<text transform="translate(299.25,412.10)" font-size="10.0" text-anchor="middle" stroke="#111" stroke-width="0.32" fill="#111">60</text>
<line x1="316.90" y1="398.90" x2="316.90" y2="402.40" stroke="#4d4d4d" stroke-width="1.35"/>
<text transform="translate(316.90,412.10)" font-size="10.0" text-anchor="middle" stroke="#111" stroke-width="0.32" fill="#111">80</text>
<line x1="334.55" y1="398.90" x2="334.55" y2="402.40" stroke="#4d4d4d" stroke-width="1.35"/>
<text transform="translate(334.55,412.10)" font-size="10.0" text-anchor="middle" stroke="#111" stroke-width="0.32" fill="#111">100</text>
<line x1="352.20" y1="398.90" x2="352.20" y2="402.40" stroke="#4d4d4d" stroke-width="1.35"/>
<text transform="translate(352.20,412.10)" font-size="10.0" text-anchor="middle" stroke="#111" stroke-width="0.32" fill="#111">120</text>
<line x1="369.85" y1="398.90" x2="369.85" y2="402.40" stroke="#4d4d4d" stroke-width="1.35"/>
<text transform="translate(369.85,412.10)" font-size="10.0" text-anchor="middle" stroke="#111" stroke-width="0.32" fill="#111">140</text>
<text transform="translate(203.60,257.30)" font-size="20.5" text-anchor="start" font-weight="bold" stroke="#111" stroke-width="0.12" fill="#111">e</text>
<text transform="translate(210.20,330.60) rotate(-90)" font-size="10.5" text-anchor="middle" font-weight="bold" stroke="#111" stroke-width="0.12" fill="#111">binding response (RU)</text>
<text transform="translate(312.60,429.80)" font-size="10.5" text-anchor="middle" font-weight="bold" stroke="#111" stroke-width="0.12" fill="#111">gp120 (nM)</text>
<path d="M255.12,393.41 L268.36,392.42 L290.43,390.94 L334.55,388.48" fill="none" stroke="#888" stroke-width="1.0"/>
<path d="M255.12,354.20 L268.36,326.92 L290.43,305.25 L334.55,272.25" fill="none" stroke="#000" stroke-width="1.1"/>
<path d="M255.12,359.72 L268.36,330.86 L290.43,305.74 L334.55,271.76" fill="none" stroke="#000" stroke-width="1.1" stroke-dasharray="2.2,1.6"/>
<path d="M255.12,381.78 L268.36,366.81 L290.43,350.76 L334.55,324.36" fill="none" stroke="#000" stroke-width="1.1"/>
<path d="M255.12,384.05 L268.36,368.78 L290.43,352.53 L334.55,328.30" fill="none" stroke="#000" stroke-width="1.1" stroke-dasharray="2.2,1.6"/>
<path d="M255.12,395.38 L268.36,395.38 L290.43,395.38 L334.55,394.69" fill="none" stroke="#000" stroke-width="1.1" stroke-dasharray="2.2,1.6"/>
<path d="M255.12,393.60 L268.36,393.60 L290.43,392.91 L334.55,389.96" fill="none" stroke="#000" stroke-width="1.1"/>
<polygon points="255.12,391.48 258.93,397.98 251.32,397.98" fill="#fff" stroke="#000" stroke-width="1.0" stroke-linejoin="round"/>
<polygon points="268.36,391.48 272.16,397.98 264.56,397.98" fill="#fff" stroke="#000" stroke-width="1.0" stroke-linejoin="round"/>
<polygon points="290.43,391.48 294.23,397.98 286.62,397.98" fill="#fff" stroke="#000" stroke-width="1.0" stroke-linejoin="round"/>
<polygon points="334.55,390.79 338.35,397.29 330.75,397.29" fill="#fff" stroke="#000" stroke-width="1.0" stroke-linejoin="round"/>
<polygon points="255.12,389.70 258.93,396.20 251.32,396.20" fill="#000"/>
<polygon points="268.36,389.70 272.16,396.20 264.56,396.20" fill="#000"/>
<polygon points="290.43,389.01 294.23,395.51 286.62,395.51" fill="#000"/>
<polygon points="334.55,386.06 338.35,392.56 330.75,392.56" fill="#000"/>
<rect x="252.22" y="381.15" width="5.80" height="5.80" fill="#fff" stroke="#000" stroke-width="1.0"/>
<rect x="265.46" y="365.88" width="5.80" height="5.80" fill="#fff" stroke="#000" stroke-width="1.0"/>
<rect x="287.53" y="349.63" width="5.80" height="5.80" fill="#fff" stroke="#000" stroke-width="1.0"/>
<rect x="331.65" y="325.40" width="5.80" height="5.80" fill="#fff" stroke="#000" stroke-width="1.0"/>
<rect x="251.82" y="378.48" width="6.60" height="6.60" fill="#000"/>
<rect x="265.06" y="363.51" width="6.60" height="6.60" fill="#000"/>
<rect x="287.12" y="347.46" width="6.60" height="6.60" fill="#000"/>
<rect x="331.25" y="321.06" width="6.60" height="6.60" fill="#000"/>
<circle cx="255.12" cy="359.72" r="3.10" fill="#fff" stroke="#000" stroke-width="1.05"/>
<circle cx="268.36" cy="330.86" r="3.10" fill="#fff" stroke="#000" stroke-width="1.05"/>
<circle cx="290.43" cy="305.74" r="3.10" fill="#fff" stroke="#000" stroke-width="1.05"/>
<circle cx="334.55" cy="271.76" r="3.10" fill="#fff" stroke="#000" stroke-width="1.05"/>
<circle cx="255.12" cy="354.20" r="3.60" fill="#000"/>
<circle cx="268.36" cy="326.92" r="3.60" fill="#000"/>
<circle cx="290.43" cy="305.25" r="3.60" fill="#000"/>
<circle cx="334.55" cy="272.25" r="3.60" fill="#000"/>
<path d="M341.8,268.7 L345.4,268.7 L345.4,331.3 L341.8,331.3" fill="none" stroke="#222" stroke-width="1.1"/>
<path d="M342.6,379.2 L346.2,379.2 L346.2,395.5 L342.6,395.5" fill="none" stroke="#222" stroke-width="1.1"/>
<text transform="translate(361.80,291.90)" font-size="11.0" text-anchor="middle" stroke="#111" stroke-width="0.32" fill="#111">+</text>
<text transform="translate(361.90,305.20)" font-size="11.0" text-anchor="middle" stroke="#111" stroke-width="0.32" fill="#111">sCD4</text>
<text transform="translate(364.10,384.90)" font-size="11.0" text-anchor="middle" stroke="#111" stroke-width="0.32" fill="#111">no</text>
<text transform="translate(364.40,398.30)" font-size="11.0" text-anchor="middle" stroke="#111" stroke-width="0.32" fill="#111">sCD4</text>
<rect x="445.30" y="266.40" width="132.10" height="132.10" fill="none" stroke="#4d4d4d" stroke-width="1.35" />
<line x1="442.10" y1="398.50" x2="445.30" y2="398.50" stroke="#4d4d4d" stroke-width="1.35"/>
<text transform="translate(440.30,402.24)" font-size="9.6" text-anchor="end" stroke="#111" stroke-width="0.32" fill="#111">0</text>
<line x1="442.10" y1="376.48" x2="445.30" y2="376.48" stroke="#4d4d4d" stroke-width="1.35"/>
<text transform="translate(440.30,380.23)" font-size="9.6" text-anchor="end" stroke="#111" stroke-width="0.32" fill="#111">20</text>
<line x1="442.10" y1="354.47" x2="445.30" y2="354.47" stroke="#4d4d4d" stroke-width="1.35"/>
<text transform="translate(440.30,358.21)" font-size="9.6" text-anchor="end" stroke="#111" stroke-width="0.32" fill="#111">40</text>
<line x1="442.10" y1="332.45" x2="445.30" y2="332.45" stroke="#4d4d4d" stroke-width="1.35"/>
<text transform="translate(440.30,336.19)" font-size="9.6" text-anchor="end" stroke="#111" stroke-width="0.32" fill="#111">60</text>
<line x1="442.10" y1="310.43" x2="445.30" y2="310.43" stroke="#4d4d4d" stroke-width="1.35"/>
<text transform="translate(440.30,314.18)" font-size="9.6" text-anchor="end" stroke="#111" stroke-width="0.32" fill="#111">80</text>
<line x1="442.10" y1="288.42" x2="445.30" y2="288.42" stroke="#4d4d4d" stroke-width="1.35"/>
<text transform="translate(440.30,292.16)" font-size="9.6" text-anchor="end" stroke="#111" stroke-width="0.32" fill="#111">100</text>
<line x1="442.10" y1="266.40" x2="445.30" y2="266.40" stroke="#4d4d4d" stroke-width="1.35"/>
<text transform="translate(440.30,270.14)" font-size="9.6" text-anchor="end" stroke="#111" stroke-width="0.32" fill="#111">120</text>
<line x1="449.00" y1="398.50" x2="449.00" y2="402.00" stroke="#4d4d4d" stroke-width="1.35"/>
<text transform="translate(448.70,411.30)" font-size="9.6" text-anchor="middle" stroke="#111" stroke-width="0.32" fill="#111">-10</text>
<line x1="490.55" y1="398.50" x2="490.55" y2="402.00" stroke="#4d4d4d" stroke-width="1.35"/>
<text transform="translate(490.25,411.30)" font-size="9.6" text-anchor="middle" stroke="#111" stroke-width="0.32" fill="#111">-9</text>
<line x1="532.10" y1="398.50" x2="532.10" y2="402.00" stroke="#4d4d4d" stroke-width="1.35"/>
<text transform="translate(531.80,411.30)" font-size="9.6" text-anchor="middle" stroke="#111" stroke-width="0.32" fill="#111">-8</text>
<line x1="573.65" y1="398.50" x2="573.65" y2="402.00" stroke="#4d4d4d" stroke-width="1.35"/>
<text transform="translate(573.35,411.30)" font-size="9.6" text-anchor="middle" stroke="#111" stroke-width="0.32" fill="#111">-7</text>
<text transform="translate(389.80,257.40)" font-size="20.5" text-anchor="start" font-weight="bold" stroke="#111" stroke-width="0.12" fill="#111">f</text>
<text transform="translate(413.80,330.10) rotate(-90)" font-size="10.37" text-anchor="middle" font-weight="bold" stroke="#111" stroke-width="0.12" fill="#111">bound <tspan font-size="8" dy="-4.5">35</tspan><tspan dy="4.5">S-gp120</tspan><tspan font-size="7.6" dy="2.6">Bx08</tspan><tspan dy="-2.6"> (% of B</tspan><tspan font-size="7.6" dy="2.6">0</tspan><tspan dy="-2.6">)</tspan></text>
<text transform="translate(511.00,429.40)" font-size="10.35" text-anchor="middle" font-weight="bold" stroke="#111" stroke-width="0.12" fill="#111">unlabeled gp120 (log, M)</text>
<path d="M444.85,288.50 L446.46,288.51 L448.07,288.52 L449.68,288.53 L451.29,288.54 L452.90,288.55 L454.51,288.57 L456.12,288.58 L457.73,288.59 L459.34,288.61 L460.95,288.63 L462.56,288.65 L464.17,288.67 L465.78,288.69 L467.39,288.72 L469.00,288.75 L470.61,288.78 L472.22,288.81 L473.83,288.85 L475.44,288.89 L477.05,288.94 L478.66,288.98 L480.27,289.04 L481.88,289.09 L483.49,289.16 L485.10,289.22 L486.71,289.30 L488.32,289.38 L489.93,289.47 L491.54,289.57 L493.15,289.67 L494.76,289.79 L496.37,289.92 L497.98,290.05 L499.59,290.20 L501.20,290.37 L502.81,290.55 L504.42,290.74 L506.03,290.95 L507.64,291.18 L509.25,291.43 L510.86,291.71 L512.47,292.00 L514.08,292.33 L515.69,292.68 L517.30,293.06 L518.91,293.47 L520.52,293.92 L522.13,294.41 L523.74,294.93 L525.35,295.50 L526.96,296.12 L528.57,296.78 L530.18,297.50 L531.79,298.27 L533.40,299.10 L535.01,299.99 L536.62,300.95 L538.23,301.97 L539.84,303.07 L541.45,304.24 L543.06,305.49 L544.67,306.82 L546.28,308.22 L547.89,309.71 L549.50,311.29 L551.11,312.95 L552.72,314.69 L554.33,316.52 L555.94,318.43 L557.55,320.41 L559.16,322.47 L560.77,324.61 L562.38,326.81 L563.99,329.07 L565.60,331.38 L567.21,333.74 L568.82,336.14 L570.43,338.56 L572.04,341.00 L573.65,343.46" fill="none" stroke="#000" stroke-width="1.1"/>
<path d="M444.85,289.39 L446.46,289.48 L448.07,289.58 L449.68,289.68 L451.29,289.80 L452.90,289.93 L454.51,290.07 L456.12,290.22 L457.73,290.38 L459.34,290.56 L460.95,290.76 L462.56,290.97 L464.17,291.21 L465.78,291.46 L467.39,291.74 L469.00,292.03 L470.61,292.36 L472.22,292.71 L473.83,293.10 L475.44,293.51 L477.05,293.97 L478.66,294.46 L480.27,294.99 L481.88,295.56 L483.49,296.18 L485.10,296.85 L486.71,297.57 L488.32,298.35 L489.93,299.18 L491.54,300.08 L493.15,301.04 L494.76,302.08 L496.37,303.18 L497.98,304.36 L499.59,305.61 L501.20,306.95 L502.81,308.36 L504.42,309.86 L506.03,311.45 L507.64,313.11 L509.25,314.86 L510.86,316.70 L512.47,318.61 L514.08,320.61 L515.69,322.68 L517.30,324.82 L518.91,327.02 L520.52,329.29 L522.13,331.61 L523.74,333.97 L525.35,336.37 L526.96,338.80 L528.57,341.24 L530.18,343.70 L531.79,346.15 L533.40,348.59 L535.01,351.01 L536.62,353.41 L538.23,355.76 L539.84,358.07 L541.45,360.32 L543.06,362.52 L544.67,364.65 L546.28,366.70 L547.89,368.68 L549.50,370.58 L551.11,372.40 L552.72,374.13 L554.33,375.78 L555.94,377.35 L557.55,378.83 L559.16,380.23 L560.77,381.55 L562.38,382.79 L563.99,383.96 L565.60,385.05 L567.21,386.06 L568.82,387.02 L570.43,387.90 L572.04,388.73 L573.65,389.49" fill="none" stroke="#000" stroke-width="1.1"/>
<path d="M444.85,289.19 L446.46,289.26 L448.07,289.34 L449.68,289.43 L451.29,289.52 L452.90,289.62 L454.51,289.73 L456.12,289.85 L457.73,289.99 L459.34,290.13 L460.95,290.29 L462.56,290.46 L464.17,290.64 L465.78,290.85 L467.39,291.07 L469.00,291.31 L470.61,291.57 L472.22,291.86 L473.83,292.17 L475.44,292.50 L477.05,292.87 L478.66,293.27 L480.27,293.70 L481.88,294.17 L483.49,294.67 L485.10,295.22 L486.71,295.81 L488.32,296.45 L489.93,297.14 L491.54,297.89 L493.15,298.69 L494.76,299.55 L496.37,300.48 L497.98,301.47 L499.59,302.53 L501.20,303.66 L502.81,304.88 L504.42,306.16 L506.03,307.53 L507.64,308.98 L509.25,310.52 L510.86,312.14 L512.47,313.84 L514.08,315.62 L515.69,317.49 L517.30,319.44 L518.91,321.47 L520.52,323.57 L522.13,325.74 L523.74,327.97 L525.35,330.25 L526.96,332.59 L528.57,334.97 L530.18,337.38 L531.79,339.82 L533.40,342.27 L535.01,344.73 L536.62,347.18 L538.23,349.61 L539.84,352.02 L541.45,354.40 L543.06,356.74 L544.67,359.02 L546.28,361.25 L547.89,363.42 L549.50,365.52 L551.11,367.54 L552.72,369.49 L554.33,371.35 L555.94,373.14 L557.55,374.84 L559.16,376.45 L560.77,377.98 L562.38,379.43 L563.99,380.80 L565.60,382.08 L567.21,383.29 L568.82,384.42 L570.43,385.48 L572.04,386.47 L573.65,387.39" fill="none" stroke="#000" stroke-width="1.1"/>
<path d="M444.85,288.99 L446.46,289.06 L448.07,289.13 L449.68,289.21 L451.29,289.30 L452.90,289.39 L454.51,289.50 L456.12,289.63 L457.73,289.76 L459.34,289.91 L460.95,290.08 L462.56,290.26 L464.17,290.47 L465.78,290.69 L467.39,290.94 L469.00,291.22 L470.61,291.53 L472.22,291.87 L473.83,292.25 L475.44,292.66 L477.05,293.12 L478.66,293.63 L480.27,294.19 L481.88,294.80 L483.49,295.48 L485.10,296.22 L486.71,297.03 L488.32,297.92 L489.93,298.89 L491.54,299.95 L493.15,301.11 L494.76,302.36 L496.37,303.72 L497.98,305.18 L499.59,306.76 L501.20,308.46 L502.81,310.27 L504.42,312.21 L506.03,314.27 L507.64,316.45 L509.25,318.74 L510.86,321.15 L512.47,323.66 L514.08,326.28 L515.69,328.98 L517.30,331.76 L518.91,334.60 L520.52,337.49 L522.13,340.42 L523.74,343.36 L525.35,346.31 L526.96,349.24 L528.57,352.13 L530.18,354.98 L531.79,357.76 L533.40,360.47 L535.01,363.09 L536.62,365.61 L538.23,368.02 L539.84,370.33 L541.45,372.51 L543.06,374.58 L544.67,376.52 L546.28,378.34 L547.89,380.05 L549.50,381.63 L551.11,383.11 L552.72,384.47 L554.33,385.73 L555.94,386.89 L557.55,387.96 L559.16,388.93 L560.77,389.83 L562.38,390.65 L563.99,391.39 L565.60,392.07 L567.21,392.69 L568.82,393.25 L570.43,393.76 L572.04,394.22 L573.65,394.64" fill="none" stroke="#000" stroke-width="1.1" stroke-dasharray="2.2,1.6"/>
<line x1="494.36" y1="303.83" x2="494.36" y2="311.20" stroke="#000" stroke-width="0.9"/>
<line x1="491.36" y1="311.20" x2="497.36" y2="311.20" stroke="#000" stroke-width="0.9"/>
<line x1="514.18" y1="328.05" x2="514.18" y2="332.50" stroke="#000" stroke-width="0.9"/>
<line x1="511.18" y1="332.50" x2="517.18" y2="332.50" stroke="#000" stroke-width="0.9"/>
<line x1="553.83" y1="369.33" x2="553.83" y2="366.00" stroke="#000" stroke-width="0.9"/>
<line x1="550.83" y1="366.00" x2="556.83" y2="366.00" stroke="#000" stroke-width="0.9"/>
<line x1="553.83" y1="383.09" x2="553.83" y2="376.80" stroke="#000" stroke-width="0.9"/>
<line x1="550.83" y1="376.80" x2="556.83" y2="376.80" stroke="#000" stroke-width="0.9"/>
<line x1="553.83" y1="383.09" x2="553.83" y2="388.90" stroke="#000" stroke-width="0.9"/>
<line x1="550.83" y1="388.90" x2="556.83" y2="388.90" stroke="#000" stroke-width="0.9"/>
<line x1="553.83" y1="315.94" x2="553.83" y2="311.00" stroke="#000" stroke-width="0.9"/>
<line x1="550.83" y1="311.00" x2="556.83" y2="311.00" stroke="#000" stroke-width="0.9"/>
<line x1="553.83" y1="315.94" x2="553.83" y2="319.50" stroke="#000" stroke-width="0.9"/>
<line x1="550.83" y1="319.50" x2="556.83" y2="319.50" stroke="#000" stroke-width="0.9"/>
<line x1="454.71" y1="284.01" x2="454.71" y2="277.40" stroke="#000" stroke-width="0.9"/>
<line x1="451.71" y1="277.40" x2="457.71" y2="277.40" stroke="#000" stroke-width="0.9"/>
<line x1="454.71" y1="284.01" x2="454.71" y2="279.30" stroke="#000" stroke-width="0.9"/>
<line x1="451.71" y1="279.30" x2="457.71" y2="279.30" stroke="#000" stroke-width="0.9"/>
<line x1="494.36" y1="295.02" x2="494.36" y2="290.00" stroke="#000" stroke-width="0.9"/>
<line x1="491.36" y1="290.00" x2="497.36" y2="290.00" stroke="#000" stroke-width="0.9"/>
<polygon points="454.71,285.30 457.75,290.50 451.67,290.50" fill="#fff" stroke="#000" stroke-width="1.0" stroke-linejoin="round"/>
<polygon points="474.53,288.60 477.57,293.80 471.49,293.80" fill="#fff" stroke="#000" stroke-width="1.0" stroke-linejoin="round"/>
<polygon points="494.36,296.31 497.40,301.50 491.32,301.50" fill="#fff" stroke="#000" stroke-width="1.0" stroke-linejoin="round"/>
<polygon points="514.18,327.13 517.22,332.33 511.14,332.33" fill="#fff" stroke="#000" stroke-width="1.0" stroke-linejoin="round"/>
<polygon points="534.00,359.05 537.04,364.25 530.96,364.25" fill="#fff" stroke="#000" stroke-width="1.0" stroke-linejoin="round"/>
<polygon points="553.83,379.97 556.87,385.17 550.79,385.17" fill="#fff" stroke="#000" stroke-width="1.0" stroke-linejoin="round"/>
<polygon points="573.65,389.11 576.69,394.31 570.61,394.31" fill="#fff" stroke="#000" stroke-width="1.0" stroke-linejoin="round"/>
<rect x="452.07" y="283.58" width="5.28" height="5.28" fill="#000"/>
<rect x="471.89" y="283.58" width="5.28" height="5.28" fill="#000"/>
<rect x="491.72" y="301.19" width="5.28" height="5.28" fill="#000"/>
<rect x="511.54" y="325.41" width="5.28" height="5.28" fill="#000"/>
<rect x="531.36" y="347.42" width="5.28" height="5.28" fill="#000"/>
<rect x="551.19" y="366.69" width="5.28" height="5.28" fill="#000"/>
<rect x="571.01" y="385.95" width="5.28" height="5.28" fill="#000"/>
<polygon points="454.71,288.22 457.11,290.62 454.71,293.02 452.31,290.62" fill="#000"/>
<polygon points="474.53,290.42 476.93,292.82 474.53,295.22 472.13,292.82" fill="#000"/>
<polygon points="494.36,294.82 496.76,297.22 494.36,299.62 491.96,297.22" fill="#000"/>
<polygon points="514.18,321.24 516.58,323.64 514.18,326.04 511.78,323.64" fill="#000"/>
<polygon points="534.00,339.96 536.40,342.36 534.00,344.76 531.60,342.36" fill="#000"/>
<polygon points="553.83,365.28 556.23,367.68 553.83,370.08 551.43,367.68" fill="#000"/>
<polygon points="573.65,387.29 576.05,389.69 573.65,392.09 571.25,389.69" fill="#000"/>
<circle cx="454.71" cy="284.01" r="2.88" fill="#000"/>
<circle cx="474.53" cy="285.11" r="2.88" fill="#000"/>
<circle cx="494.36" cy="295.02" r="2.88" fill="#000"/>
<circle cx="514.18" cy="296.12" r="2.88" fill="#000"/>
<circle cx="534.00" cy="304.93" r="2.88" fill="#000"/>
<circle cx="553.83" cy="315.94" r="2.88" fill="#000"/>
<circle cx="573.65" cy="343.46" r="2.88" fill="#000"/>
<line x1="447.40" y1="352.90" x2="462.80" y2="352.90" stroke="#000" stroke-width="1.1"/>
<rect x="452.16" y="350.26" width="5.28" height="5.28" fill="#000"/>
<text transform="translate(470.50,356.70)" font-size="10.9" text-anchor="start" stroke="#111" stroke-width="0.32" fill="#111">Sens</text>
<line x1="447.40" y1="365.60" x2="462.80" y2="365.60" stroke="#000" stroke-width="1.1"/>
<circle cx="454.80" cy="365.60" r="2.88" fill="#000"/>
<text transform="translate(470.50,369.40)" font-size="10.9" text-anchor="start" stroke="#111" stroke-width="0.32" fill="#111">Res</text>
<line x1="447.40" y1="378.30" x2="462.80" y2="378.30" stroke="#000" stroke-width="1.1" stroke-dasharray="2.2,1.6"/>
<polygon points="454.80,375.18 457.84,380.38 451.76,380.38" fill="none" stroke="#000" stroke-width="1.0" stroke-linejoin="round"/>
<text transform="translate(470.50,382.10)" font-size="10.9" text-anchor="start" stroke="#111" stroke-width="0.32" fill="#111">Res (-A)</text>
<line x1="447.40" y1="390.50" x2="462.80" y2="390.50" stroke="#000" stroke-width="1.1"/>
<polygon points="454.80,388.10 457.20,390.50 454.80,392.90 452.40,390.50" fill="#000"/>
<text transform="translate(470.50,394.30)" font-size="10.9" text-anchor="start" stroke="#111" stroke-width="0.32" fill="#111">Bx08</text>
<rect x="644.30" y="267.60" width="132.30" height="131.80" fill="none" stroke="#4d4d4d" stroke-width="1.35" />
<line x1="641.00" y1="394.40" x2="644.30" y2="394.40" stroke="#4d4d4d" stroke-width="1.35"/>
<text transform="translate(639.60,398.18)" font-size="9.7" text-anchor="end" stroke="#111" stroke-width="0.32" fill="#111">0</text>
<line x1="641.00" y1="374.18" x2="644.30" y2="374.18" stroke="#4d4d4d" stroke-width="1.35"/>
<text transform="translate(639.60,377.97)" font-size="9.7" text-anchor="end" stroke="#111" stroke-width="0.32" fill="#111">20</text>
<line x1="641.00" y1="353.97" x2="644.30" y2="353.97" stroke="#4d4d4d" stroke-width="1.35"/>
<text transform="translate(639.60,357.75)" font-size="9.7" text-anchor="end" stroke="#111" stroke-width="0.32" fill="#111">40</text>
<line x1="641.00" y1="333.75" x2="644.30" y2="333.75" stroke="#4d4d4d" stroke-width="1.35"/>
<text transform="translate(639.60,337.53)" font-size="9.7" text-anchor="end" stroke="#111" stroke-width="0.32" fill="#111">60</text>
<line x1="641.00" y1="313.54" x2="644.30" y2="313.54" stroke="#4d4d4d" stroke-width="1.35"/>
<text transform="translate(639.60,317.32)" font-size="9.7" text-anchor="end" stroke="#111" stroke-width="0.32" fill="#111">80</text>
<line x1="641.00" y1="293.32" x2="644.30" y2="293.32" stroke="#4d4d4d" stroke-width="1.35"/>
<text transform="translate(639.60,297.10)" font-size="9.7" text-anchor="end" stroke="#111" stroke-width="0.32" fill="#111">100</text>
<line x1="641.00" y1="273.10" x2="644.30" y2="273.10" stroke="#4d4d4d" stroke-width="1.35"/>
<text transform="translate(639.60,276.89)" font-size="9.7" text-anchor="end" stroke="#111" stroke-width="0.32" fill="#111">120</text>
<line x1="648.40" y1="399.40" x2="648.40" y2="402.90" stroke="#4d4d4d" stroke-width="1.35"/>
<text transform="translate(648.10,412.90)" font-size="9.7" text-anchor="middle" stroke="#111" stroke-width="0.32" fill="#111">-10</text>
<line x1="690.00" y1="399.40" x2="690.00" y2="402.90" stroke="#4d4d4d" stroke-width="1.35"/>
<text transform="translate(689.70,412.90)" font-size="9.7" text-anchor="middle" stroke="#111" stroke-width="0.32" fill="#111">-9</text>
<line x1="731.60" y1="399.40" x2="731.60" y2="402.90" stroke="#4d4d4d" stroke-width="1.35"/>
<text transform="translate(731.30,412.90)" font-size="9.7" text-anchor="middle" stroke="#111" stroke-width="0.32" fill="#111">-8</text>
<line x1="773.20" y1="399.40" x2="773.20" y2="402.90" stroke="#4d4d4d" stroke-width="1.35"/>
<text transform="translate(772.90,412.90)" font-size="9.7" text-anchor="middle" stroke="#111" stroke-width="0.32" fill="#111">-7</text>
<text transform="translate(587.80,257.10)" font-size="20.5" text-anchor="start" font-weight="bold" stroke="#111" stroke-width="0.12" fill="#111">g</text>
<text transform="translate(612.60,330.70) rotate(-90)" font-size="10.43" text-anchor="middle" font-weight="bold" stroke="#111" stroke-width="0.12" fill="#111">bound <tspan font-size="8" dy="-4.6">35</tspan><tspan dy="4.6">S-gp120</tspan><tspan font-size="7.6" dy="2.6">Sens</tspan><tspan dy="-2.6"> (% of B</tspan><tspan font-size="7.6" dy="2.6">0</tspan><tspan dy="-2.6">)</tspan></text>
<text transform="translate(710.50,431.20)" font-size="10.3" text-anchor="middle" font-weight="bold" stroke="#111" stroke-width="0.12" fill="#111">unlabeled gp120 (log, M)</text>
<path d="M644.24,293.36 L645.85,293.36 L647.46,293.37 L649.08,293.37 L650.69,293.38 L652.30,293.38 L653.91,293.39 L655.52,293.40 L657.14,293.41 L658.75,293.42 L660.36,293.42 L661.97,293.44 L663.58,293.45 L665.20,293.46 L666.81,293.48 L668.42,293.49 L670.03,293.51 L671.64,293.53 L673.26,293.55 L674.87,293.57 L676.48,293.60 L678.09,293.63 L679.70,293.66 L681.32,293.69 L682.93,293.73 L684.54,293.78 L686.15,293.82 L687.76,293.87 L689.38,293.93 L690.99,293.99 L692.60,294.06 L694.21,294.14 L695.82,294.22 L697.44,294.31 L699.05,294.41 L700.66,294.53 L702.27,294.65 L703.88,294.78 L705.50,294.93 L707.11,295.10 L708.72,295.28 L710.33,295.47 L711.94,295.69 L713.56,295.93 L715.17,296.19 L716.78,296.48 L718.39,296.79 L720.00,297.13 L721.62,297.51 L723.23,297.92 L724.84,298.37 L726.45,298.87 L728.06,299.40 L729.68,299.99 L731.29,300.63 L732.90,301.32 L734.51,302.08 L736.12,302.89 L737.74,303.78 L739.35,304.74 L740.96,305.77 L742.57,306.88 L744.18,308.07 L745.80,309.35 L747.41,310.72 L749.02,312.18 L750.63,313.73 L752.24,315.38 L753.86,317.12 L755.47,318.95 L757.08,320.87 L758.69,322.88 L760.30,324.98 L761.92,327.15 L763.53,329.39 L765.14,331.70 L766.75,334.06 L768.36,336.47 L769.98,338.92 L771.59,341.38 L773.20,343.86" fill="none" stroke="#000" stroke-width="1.1"/>
<path d="M644.24,293.36 L645.85,293.36 L647.46,293.37 L649.08,293.37 L650.69,293.38 L652.30,293.38 L653.91,293.39 L655.52,293.39 L657.14,293.40 L658.75,293.41 L660.36,293.42 L661.97,293.43 L663.58,293.44 L665.20,293.45 L666.81,293.47 L668.42,293.48 L670.03,293.50 L671.64,293.52 L673.26,293.54 L674.87,293.56 L676.48,293.59 L678.09,293.61 L679.70,293.64 L681.32,293.68 L682.93,293.71 L684.54,293.75 L686.15,293.80 L687.76,293.85 L689.38,293.90 L690.99,293.96 L692.60,294.03 L694.21,294.10 L695.82,294.18 L697.44,294.26 L699.05,294.36 L700.66,294.47 L702.27,294.58 L703.88,294.71 L705.50,294.85 L707.11,295.01 L708.72,295.18 L710.33,295.37 L711.94,295.57 L713.56,295.80 L715.17,296.05 L716.78,296.32 L718.39,296.62 L720.00,296.95 L721.62,297.31 L723.23,297.71 L724.84,298.14 L726.45,298.61 L728.06,299.12 L729.68,299.68 L731.29,300.29 L732.90,300.96 L734.51,301.68 L736.12,302.46 L737.74,303.31 L739.35,304.23 L740.96,305.23 L742.57,306.30 L744.18,307.45 L745.80,308.68 L747.41,310.00 L749.02,311.42 L750.63,312.92 L752.24,314.52 L753.86,316.21 L755.47,317.99 L757.08,319.87 L758.69,321.84 L760.30,323.89 L761.92,326.02 L763.53,328.23 L765.14,330.50 L766.75,332.84 L768.36,335.22 L769.98,337.65 L771.59,340.11 L773.20,342.58" fill="none" stroke="#000" stroke-width="1.1" stroke-dasharray="2.2,1.6"/>
<path d="M644.24,294.03 L645.85,294.10 L647.46,294.17 L649.08,294.25 L650.69,294.33 L652.30,294.43 L653.91,294.53 L655.52,294.64 L657.14,294.76 L658.75,294.89 L660.36,295.04 L661.97,295.19 L663.58,295.37 L665.20,295.55 L666.81,295.76 L668.42,295.98 L670.03,296.22 L671.64,296.48 L673.26,296.76 L674.87,297.07 L676.48,297.41 L678.09,297.77 L679.70,298.17 L681.32,298.60 L682.93,299.06 L684.54,299.57 L686.15,300.11 L687.76,300.70 L689.38,301.33 L690.99,302.02 L692.60,302.75 L694.21,303.54 L695.82,304.39 L697.44,305.30 L699.05,306.28 L700.66,307.32 L702.27,308.43 L703.88,309.62 L705.50,310.87 L707.11,312.20 L708.72,313.61 L710.33,315.10 L711.94,316.66 L713.56,318.30 L715.17,320.02 L716.78,321.81 L718.39,323.67 L720.00,325.60 L721.62,327.59 L723.23,329.64 L724.84,331.74 L726.45,333.88 L728.06,336.07 L729.68,338.28 L731.29,340.52 L732.90,342.77 L734.51,345.02 L736.12,347.27 L737.74,349.51 L739.35,351.72 L740.96,353.91 L742.57,356.05 L744.18,358.15 L745.80,360.20 L747.41,362.19 L749.02,364.11 L750.63,365.97 L752.24,367.76 L753.86,369.47 L755.47,371.11 L757.08,372.67 L758.69,374.15 L760.30,375.56 L761.92,376.89 L763.53,378.14 L765.14,379.32 L766.75,380.43 L768.36,381.47 L769.98,382.45 L771.59,383.36 L773.20,384.20" fill="none" stroke="#000" stroke-width="1.1"/>
<path d="M644.24,293.56 L645.85,293.59 L647.46,293.62 L649.08,293.65 L650.69,293.69 L652.30,293.74 L653.91,293.79 L655.52,293.84 L657.14,293.90 L658.75,293.97 L660.36,294.05 L661.97,294.13 L663.58,294.23 L665.20,294.33 L666.81,294.45 L668.42,294.58 L670.03,294.73 L671.64,294.89 L673.26,295.07 L674.87,295.28 L676.48,295.50 L678.09,295.75 L679.70,296.03 L681.32,296.34 L682.93,296.69 L684.54,297.07 L686.15,297.50 L687.76,297.97 L689.38,298.49 L690.99,299.06 L692.60,299.70 L694.21,300.39 L695.82,301.16 L697.44,302.01 L699.05,302.94 L700.66,303.95 L702.27,305.06 L703.88,306.27 L705.50,307.58 L707.11,309.01 L708.72,310.54 L710.33,312.19 L711.94,313.97 L713.56,315.86 L715.17,317.87 L716.78,320.00 L718.39,322.25 L720.00,324.61 L721.62,327.07 L723.23,329.62 L724.84,332.25 L726.45,334.95 L728.06,337.71 L729.68,340.50 L731.29,343.31 L732.90,346.13 L734.51,348.93 L736.12,351.71 L737.74,354.43 L739.35,357.09 L740.96,359.68 L742.57,362.17 L744.18,364.57 L745.80,366.86 L747.41,369.04 L749.02,371.10 L750.63,373.04 L752.24,374.86 L753.86,376.55 L755.47,378.13 L757.08,379.60 L758.69,380.95 L760.30,382.20 L761.92,383.35 L763.53,384.40 L765.14,385.36 L766.75,386.24 L768.36,387.04 L769.98,387.76 L771.59,388.42 L773.20,389.02" fill="none" stroke="#000" stroke-width="1.1" stroke-dasharray="2.2,1.6"/>
<rect x="671.03" y="298.63" width="5.15" height="5.15" fill="#000"/>
<rect x="690.93" y="305.13" width="5.15" height="5.15" fill="#000"/>
<rect x="710.73" y="322.43" width="5.15" height="5.15" fill="#000"/>
<rect x="730.73" y="336.93" width="5.15" height="5.15" fill="#000"/>
<rect x="750.23" y="366.23" width="5.15" height="5.15" fill="#000"/>
<rect x="769.83" y="388.33" width="5.15" height="5.15" fill="#000"/>
<rect x="651.74" y="286.64" width="4.52" height="4.52" fill="#fff" stroke="#000" stroke-width="1.0"/>
<rect x="671.34" y="279.34" width="4.52" height="4.52" fill="#fff" stroke="#000" stroke-width="1.0"/>
<rect x="731.04" y="293.84" width="4.52" height="4.52" fill="#fff" stroke="#000" stroke-width="1.0"/>
<rect x="750.54" y="312.74" width="4.52" height="4.52" fill="#fff" stroke="#000" stroke-width="1.0"/>
<rect x="770.14" y="341.34" width="4.52" height="4.52" fill="#fff" stroke="#000" stroke-width="1.0"/>
<circle cx="693.50" cy="295.40" r="2.42" fill="#fff" stroke="#000" stroke-width="1.05"/>
<circle cx="713.30" cy="322.30" r="2.42" fill="#fff" stroke="#000" stroke-width="1.05"/>
<circle cx="733.30" cy="342.70" r="2.42" fill="#fff" stroke="#000" stroke-width="1.05"/>
<circle cx="752.80" cy="372.00" r="2.42" fill="#fff" stroke="#000" stroke-width="1.05"/>
<circle cx="772.40" cy="397.10" r="2.42" fill="#fff" stroke="#000" stroke-width="1.05"/>
<rect x="651.43" y="291.93" width="5.15" height="5.15" fill="#000"/>
<rect x="710.73" y="290.33" width="5.15" height="5.15" fill="#000"/>
<rect x="750.23" y="310.23" width="5.15" height="5.15" fill="#000"/>
<rect x="690.93" y="289.23" width="5.15" height="5.15" fill="#000"/>
<circle cx="673.60" cy="290.30" r="2.81" fill="#000"/>
<circle cx="733.30" cy="307.00" r="2.81" fill="#000"/>
<circle cx="772.40" cy="346.50" r="2.81" fill="#000"/>
<line x1="654.00" y1="294.50" x2="654.00" y2="303.80" stroke="#000" stroke-width="0.9"/>
<line x1="651.00" y1="303.80" x2="657.00" y2="303.80" stroke="#000" stroke-width="0.9"/>
<line x1="654.00" y1="288.90" x2="654.00" y2="287.40" stroke="#000" stroke-width="0.9"/>
<line x1="651.00" y1="287.40" x2="657.00" y2="287.40" stroke="#000" stroke-width="0.9"/>
<line x1="673.60" y1="281.60" x2="673.60" y2="270.50" stroke="#000" stroke-width="0.9"/>
<line x1="670.60" y1="270.50" x2="676.60" y2="270.50" stroke="#000" stroke-width="0.9"/>
<line x1="693.50" y1="291.80" x2="693.50" y2="283.50" stroke="#000" stroke-width="0.9"/>
<line x1="690.50" y1="283.50" x2="696.50" y2="283.50" stroke="#000" stroke-width="0.9"/>
<line x1="693.50" y1="295.40" x2="693.50" y2="299.70" stroke="#000" stroke-width="0.9"/>
<line x1="690.50" y1="299.70" x2="696.50" y2="299.70" stroke="#000" stroke-width="0.9"/>
<line x1="649.20" y1="359.60" x2="665.10" y2="359.60" stroke="#000" stroke-width="1.1"/>
<rect x="654.33" y="357.03" width="5.15" height="5.15" fill="#000"/>
<text transform="translate(672.60,363.40)" font-size="11.0" text-anchor="start" stroke="#111" stroke-width="0.32" fill="#111">Sens</text>
<line x1="649.20" y1="371.20" x2="665.10" y2="371.20" stroke="#000" stroke-width="1.1"/>
<circle cx="656.90" cy="371.20" r="2.81" fill="#000"/>
<text transform="translate(672.60,375.00)" font-size="11.0" text-anchor="start" stroke="#111" stroke-width="0.32" fill="#111">Res</text>
<line x1="649.20" y1="382.60" x2="665.10" y2="382.60" stroke="#000" stroke-width="1.1" stroke-dasharray="2.2,1.6"/>
<rect x="654.64" y="380.34" width="4.52" height="4.52" fill="none" stroke="#000" stroke-width="1.0"/>
<text transform="translate(672.60,386.40)" font-size="11.0" text-anchor="start" stroke="#111" stroke-width="0.32" fill="#111">Sens(V3R)</text>
<line x1="649.20" y1="393.70" x2="665.10" y2="393.70" stroke="#000" stroke-width="1.1" stroke-dasharray="2.2,1.6"/>
<circle cx="656.90" cy="393.70" r="2.42" fill="none" stroke="#000" stroke-width="1.05"/>
<text transform="translate(672.60,397.50)" font-size="11.0" text-anchor="start" stroke="#111" stroke-width="0.32" fill="#111">Res(V3S)</text>
</svg></body></html>
